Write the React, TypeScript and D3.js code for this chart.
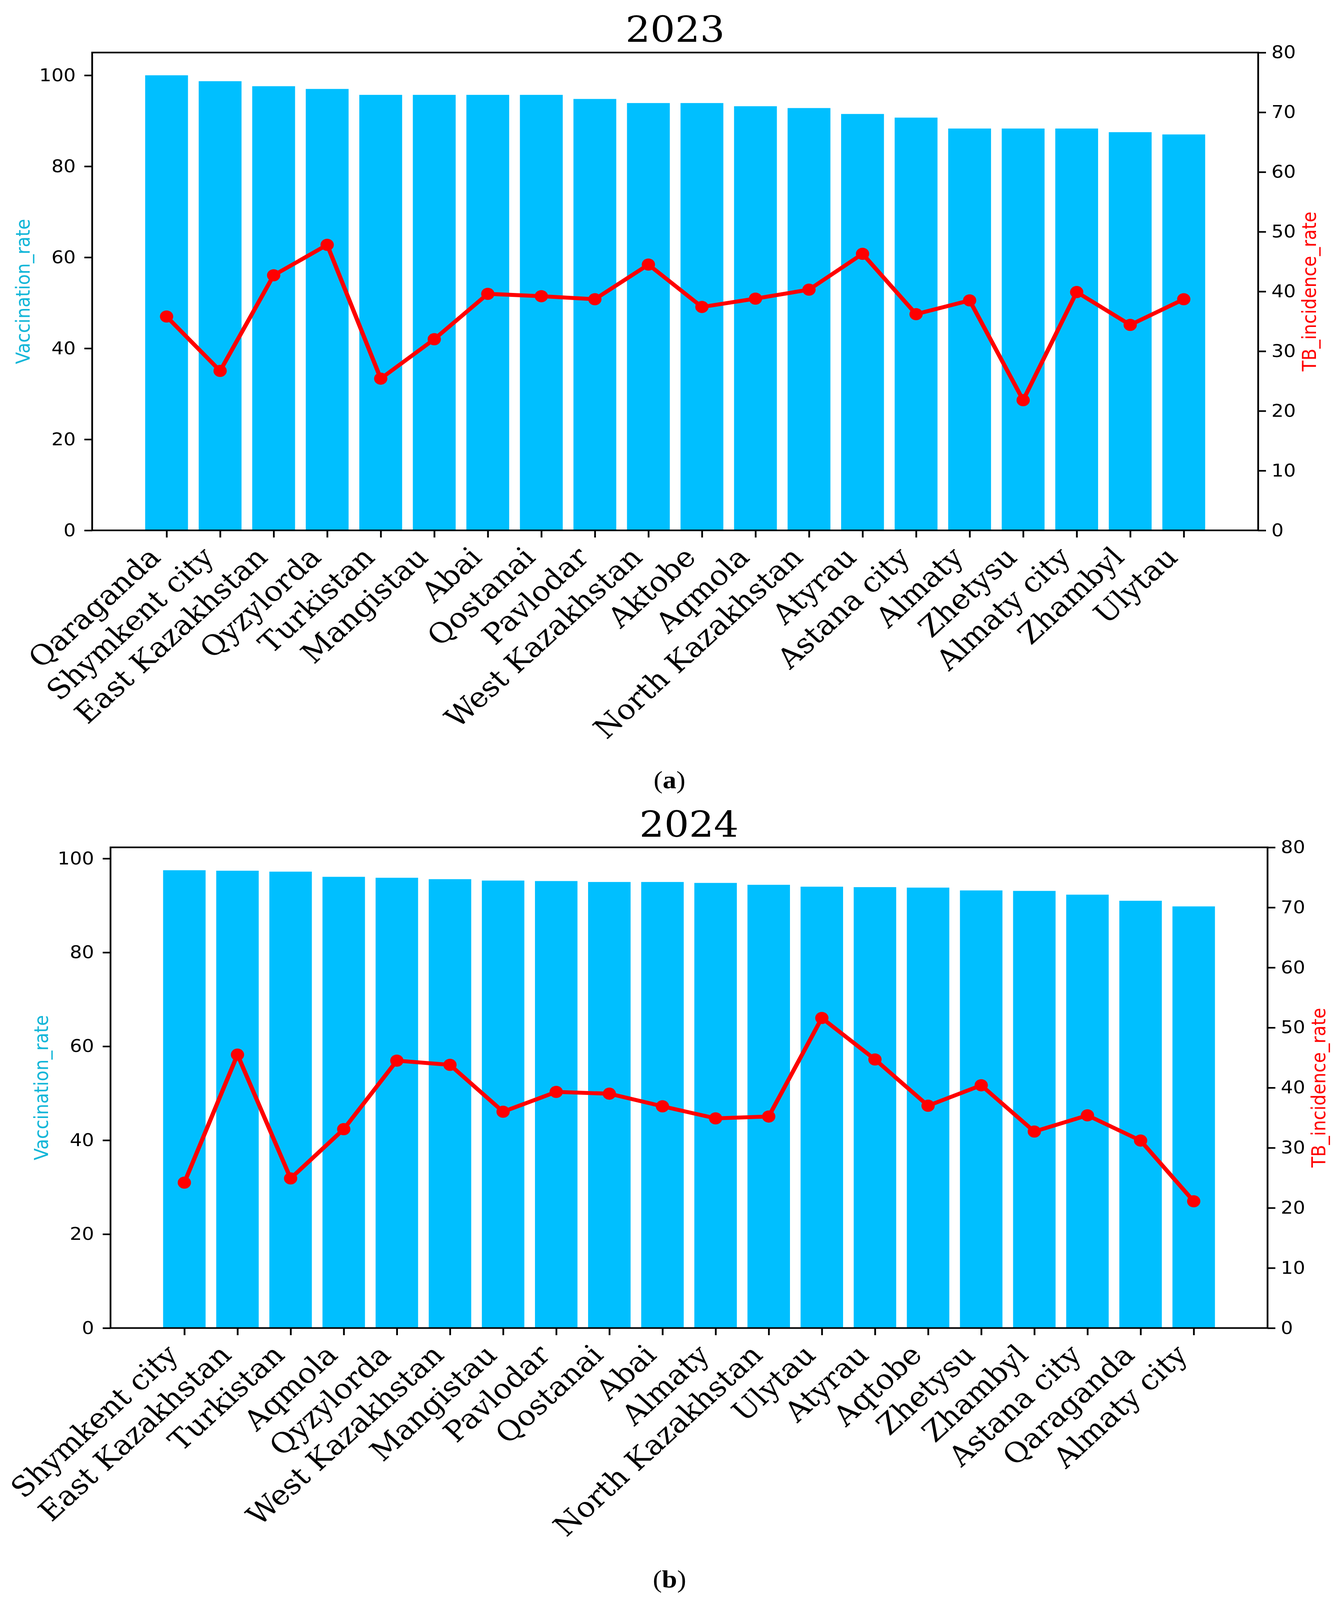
import React, { useEffect, useRef } from 'react';
import * as d3 from 'd3';

// --- Data ---
const regions2023 = [
  'Qaraganda', 'Shymkent city', 'East Kazakhstan', 'Qyzylorda', 'Turkistan',
  'Mangistau', 'Abai', 'Qostanai', 'Pavlodar', 'West Kazakhstan',
  'Aktobe', 'Aqmola', 'North Kazakhstan', 'Atyrau', 'Astana city',
  'Almaty', 'Zhetysu', 'Almaty city', 'Zhambyl', 'Ulytau',
];
const vaccination2023 = [
  100, 98.7, 97.6, 97.0, 95.7, 95.7, 95.7, 95.7, 94.8, 93.9,
  93.9, 93.2, 92.8, 91.5, 90.7, 88.3, 88.3, 88.3, 87.5, 87.0,
];
const incidence2023 = [
  35.8, 26.7, 42.7, 47.8, 25.4, 32.0, 39.6, 39.2, 38.7, 44.5,
  37.4, 38.8, 40.3, 46.3, 36.2, 38.5, 21.8, 39.9, 34.4, 38.7,
];

const regions2024 = [
  'Shymkent city', 'East Kazakhstan', 'Turkistan', 'Aqmola', 'Qyzylorda',
  'West Kazakhstan', 'Mangistau', 'Pavlodar', 'Qostanai', 'Abai',
  'Almaty', 'North Kazakhstan', 'Ulytau', 'Atyrau', 'Aqtobe',
  'Zhetysu', 'Zhambyl', 'Astana city', 'Qaraganda', 'Almaty city',
];
const vaccination2024 = [
  97.5, 97.4, 97.2, 96.1, 95.9, 95.6, 95.3, 95.2, 95.0, 95.0,
  94.8, 94.4, 94.0, 93.9, 93.8, 93.2, 93.1, 92.3, 91.0, 89.8,
];
const incidence2024 = [
  24.2, 45.5, 24.9, 33.1, 44.5, 43.8, 36.0, 39.3, 39.0, 36.9,
  34.9, 35.2, 51.6, 44.7, 37.0, 40.4, 32.7, 35.4, 31.2, 21.1,
];

const leftTicks = [0, 20, 40, 60, 80, 100];
const rightTicks = [0, 10, 20, 30, 40, 50, 60, 70, 80];

const WIDTH = 3429;
const HEIGHT = 4477;
const BAR_COLOR = '#00BFFF';
const LINE_COLOR = '#FF0000';
const LEFT_LABEL_COLOR = '#12b6d8';

interface Panel {
  title: string;
  caption: string;
  regions: string[];
  vaccination: number[];
  incidence: number[];
  left: number;
  right: number;
  top: number;
  bottom: number;
  captionY: number;
}

const panels: Panel[] = [
  {
    title: '2023', caption: 'a',
    regions: regions2023, vaccination: vaccination2023, incidence: incidence2023,
    left: 236, right: 3222, top: 147, bottom: 1484, captionY: 2206,
  },
  {
    title: '2024', caption: 'b',
    regions: regions2024, vaccination: vaccination2024, incidence: incidence2024,
    left: 283, right: 3246, top: 2371, bottom: 3716, captionY: 4442,
  },
];

function drawPanel(svg: d3.Selection<SVGSVGElement, unknown, null, undefined>, p: Panel) {
  const n = p.regions.length;
  // bars span i-0.4..i+0.4, plus a 5% margin like matplotlib
  const pad = 0.4 + 0.05 * (n - 1 + 0.8);
  const x = d3.scaleLinear().domain([-pad, n - 1 + pad]).range([p.left, p.right]);
  const yLeft = d3.scaleLinear()
    .domain([0, (d3.max(p.vaccination) ?? 100) * 1.05])
    .range([p.bottom, p.top]);
  const yRight = d3.scaleLinear().domain([0, 80]).range([p.bottom, p.top]);

  const g = svg.append('g');

  // --- Bars ---
  g.append('g')
    .selectAll('rect')
    .data(p.vaccination)
    .enter()
    .append('rect')
    .attr('x', (d, i) => x(i - 0.4))
    .attr('width', x(0.8) - x(0))
    .attr('y', d => yLeft(d))
    .attr('height', d => p.bottom - yLeft(d))
    .attr('fill', BAR_COLOR);

  // --- Axes ---
  const xAxis = g.append('g')
    .attr('transform', `translate(0,${p.bottom})`)
    .call(
      d3.axisBottom(x)
        .tickValues(d3.range(n))
        .tickSize(20)
        .tickFormat(i => p.regions[i as number])
    );
  xAxis.select('.domain').remove();
  xAxis.selectAll('line').attr('stroke', '#000').attr('stroke-width', 4.5);
  xAxis.selectAll('text')
    .attr('y', null)
    .attr('dy', null)
    .attr('fill', '#000')
    .attr('font-family', '"DejaVu Serif", serif')
    .attr('font-size', 78)
    .attr('text-anchor', 'end')
    .attr('transform', 'translate(-12,80) rotate(-45)');

  const yAxisLeft = g.append('g')
    .attr('transform', `translate(${p.left},0)`)
    .call(d3.axisLeft(yLeft).tickValues(leftTicks).tickSize(20).tickPadding(22));
  yAxisLeft.select('.domain').remove();
  yAxisLeft.selectAll('line').attr('stroke', '#000').attr('stroke-width', 4.5);
  yAxisLeft.selectAll('text')
    .attr('fill', '#000')
    .attr('font-family', '"DejaVu Sans", sans-serif')
    .attr('font-size', 49);

  const yAxisRight = g.append('g')
    .attr('transform', `translate(${p.right},0)`)
    .call(d3.axisRight(yRight).tickValues(rightTicks).tickSize(20).tickPadding(14));
  yAxisRight.select('.domain').remove();
  yAxisRight.selectAll('line').attr('stroke', '#000').attr('stroke-width', 4.5);
  yAxisRight.selectAll('text')
    .attr('fill', '#000')
    .attr('font-family', '"DejaVu Sans", sans-serif')
    .attr('font-size', 49);

  // --- Spines ---
  g.append('rect')
    .attr('x', p.left)
    .attr('y', p.top)
    .attr('width', p.right - p.left)
    .attr('height', p.bottom - p.top)
    .attr('fill', 'none')
    .attr('stroke', '#000')
    .attr('stroke-width', 4.5);

  // --- Incidence line ---
  const line = d3.line<number>()
    .x((d, i) => x(i))
    .y(d => yRight(d));

  g.append('path')
    .datum(p.incidence)
    .attr('d', line)
    .attr('fill', 'none')
    .attr('stroke', LINE_COLOR)
    .attr('stroke-width', 11)
    .attr('stroke-linejoin', 'round');

  g.append('g')
    .selectAll('circle')
    .data(p.incidence)
    .enter()
    .append('circle')
    .attr('cx', (d, i) => x(i))
    .attr('cy', d => yRight(d))
    .attr('r', 17)
    .attr('fill', LINE_COLOR);

  // --- Axis labels, title, caption ---
  const midY = (p.top + p.bottom) / 2;
  g.append('text')
    .attr('transform', `translate(${p.left - 160},${midY}) rotate(-90)`)
    .attr('text-anchor', 'middle')
    .attr('font-family', '"DejaVu Sans", sans-serif')
    .attr('font-size', 49)
    .attr('fill', LEFT_LABEL_COLOR)
    .text('Vaccination_rate');

  g.append('text')
    .attr('transform', `translate(${p.right + 148},${midY}) rotate(-90)`)
    .attr('text-anchor', 'middle')
    .attr('font-family', '"DejaVu Sans", sans-serif')
    .attr('font-size', 49)
    .attr('fill', LINE_COLOR)
    .text('TB_incidence_rate');

  g.append('text')
    .attr('x', (p.left + p.right) / 2)
    .attr('y', p.top - 30)
    .attr('text-anchor', 'middle')
    .attr('font-family', '"DejaVu Serif", serif')
    .attr('font-size', 100)
    .attr('fill', '#000')
    .text(p.title);

  const cap = g.append('text')
    .attr('x', WIDTH / 2)
    .attr('y', p.captionY)
    .attr('text-anchor', 'middle')
    .attr('font-family', '"Liberation Serif", serif')
    .attr('font-size', 70)
    .attr('fill', '#000');
  cap.append('tspan').text('(');
  cap.append('tspan').attr('font-weight', 'bold').text(p.caption);
  cap.append('tspan').text(')');
}

export default function App() {
  const svgRef = useRef<SVGSVGElement | null>(null);

  useEffect(() => {
    if (!svgRef.current) return;
    const svg = d3.select(svgRef.current);
    svg.selectAll('*').remove();

    svg.append('rect')
      .attr('width', WIDTH)
      .attr('height', HEIGHT)
      .attr('fill', '#fff');

    panels.forEach(p => drawPanel(svg, p));
  }, []);

  // the visible viewport turned out shorter than the requested window,
  // so the figure is fitted to it instead of overflowing
  return (
    <svg
      ref={svgRef}
      viewBox={`0 0 ${WIDTH} ${HEIGHT}`}
      preserveAspectRatio="none"
      style={{ position: 'fixed', left: 0, top: 0, width: '100vw', height: '100vh', display: 'block' }}
    />
  );
}
